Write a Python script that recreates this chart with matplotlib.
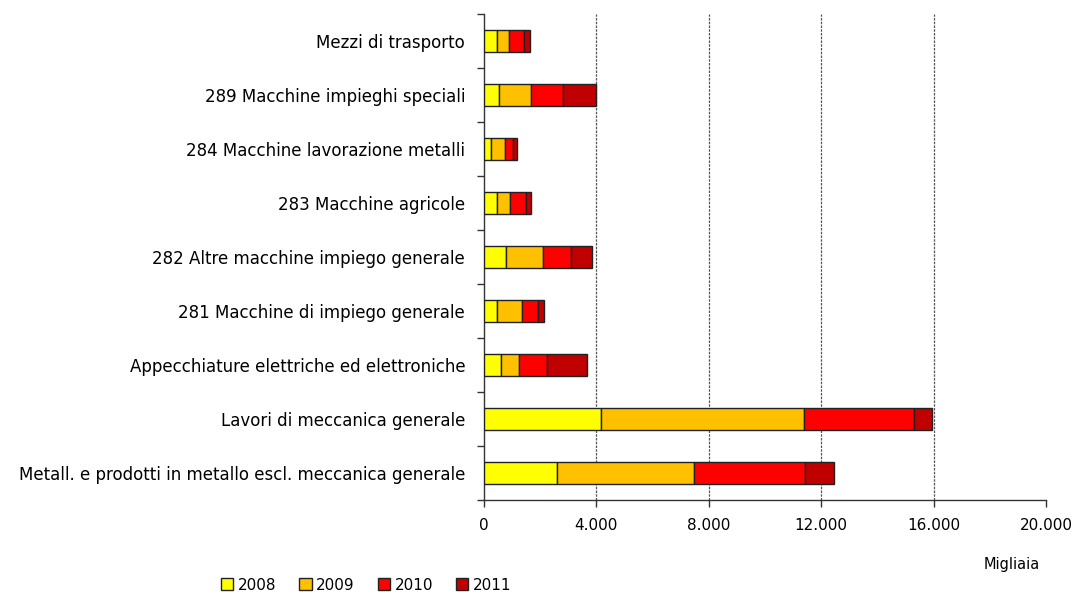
import numpy as np
import matplotlib
matplotlib.use("Agg")
import matplotlib.pyplot as plt
from matplotlib.ticker import FuncFormatter, FixedLocator

categories = [
    "Mezzi di trasporto",
    "289 Macchine impieghi speciali",
    "284 Macchine lavorazione metalli",
    "283 Macchine agricole",
    "282 Altre macchine impiego generale",
    "281 Macchine di impiego generale",
    "Appecchiature elettriche ed elettroniche",
    "Lavori di meccanica generale",
    "Metall. e prodotti in metallo escl. meccanica generale",
]
years = ["2008", "2009", "2010", "2011"]
v2008 = [450, 530, 250, 450, 770, 450, 620, 4160, 2610]
v2009 = [440, 1160, 490, 475, 1320, 915, 640, 7220, 4850]
v2010 = [520, 1120, 305, 570, 1010, 570, 995, 3910, 3960]
v2011 = [240, 1190, 115, 195, 745, 190, 1400, 640, 1030]
colors = ["#FFFF00", "#FFC000", "#FF0000", "#C00000"]

fig = plt.figure(figsize=(10.75, 5.94), dpi=100)
ax = fig.add_axes([484 / 1075, 1 - 500 / 594, (1046 - 484) / 1075, 486 / 594])

y = np.arange(len(categories))
left = np.zeros(len(categories))
for vals, col, lab in zip([v2008, v2009, v2010, v2011], colors, years):
    ax.barh(y, vals, left=left, height=0.41, color=col, edgecolor="#222222",
            linewidth=1, label=lab, zorder=3)
    left += np.array(vals)

ax.set_xlim(0, 20000)
ax.set_ylim(len(categories) - 0.5, -0.5)
ax.set_xticks(np.arange(0, 20001, 4000))
ax.xaxis.set_major_formatter(FuncFormatter(lambda v, p: f"{int(v):,}".replace(",", ".")))
ax.set_yticks(y)
ax.set_yticklabels(categories, fontsize=12)
ax.yaxis.set_minor_locator(FixedLocator(np.arange(-0.5, len(categories), 1)))
ax.tick_params(axis="y", which="major", length=0, pad=13.5)
ax.tick_params(axis="y", which="minor", length=5, width=1, color="#333333")
ax.tick_params(axis="x", length=5, width=1, color="#333333", labelsize=11, pad=8)

for g in range(4000, 16001, 4000):
    ax.axvline(g, color="#555555", linestyle=(0, (2, 1)), linewidth=0.9, zorder=1)

for s in ["top", "right"]:
    ax.spines[s].set_visible(False)
for s in ["left", "bottom"]:
    ax.spines[s].set_color("#333333")
    ax.spines[s].set_linewidth(1)

fig.text(1040 / 1075, 1 - 565 / 594, "Migliaia", ha="right", va="center", fontsize=10.5)
fig.legend(loc="center left", bbox_to_anchor=(215 / 1075, 1 - 585 / 594), ncol=4,
           frameon=False, fontsize=11, handlelength=0.8, handleheight=0.8,
           handletextpad=0.3, columnspacing=1.5, borderaxespad=0)

fig.savefig("out.png", dpi=100)
